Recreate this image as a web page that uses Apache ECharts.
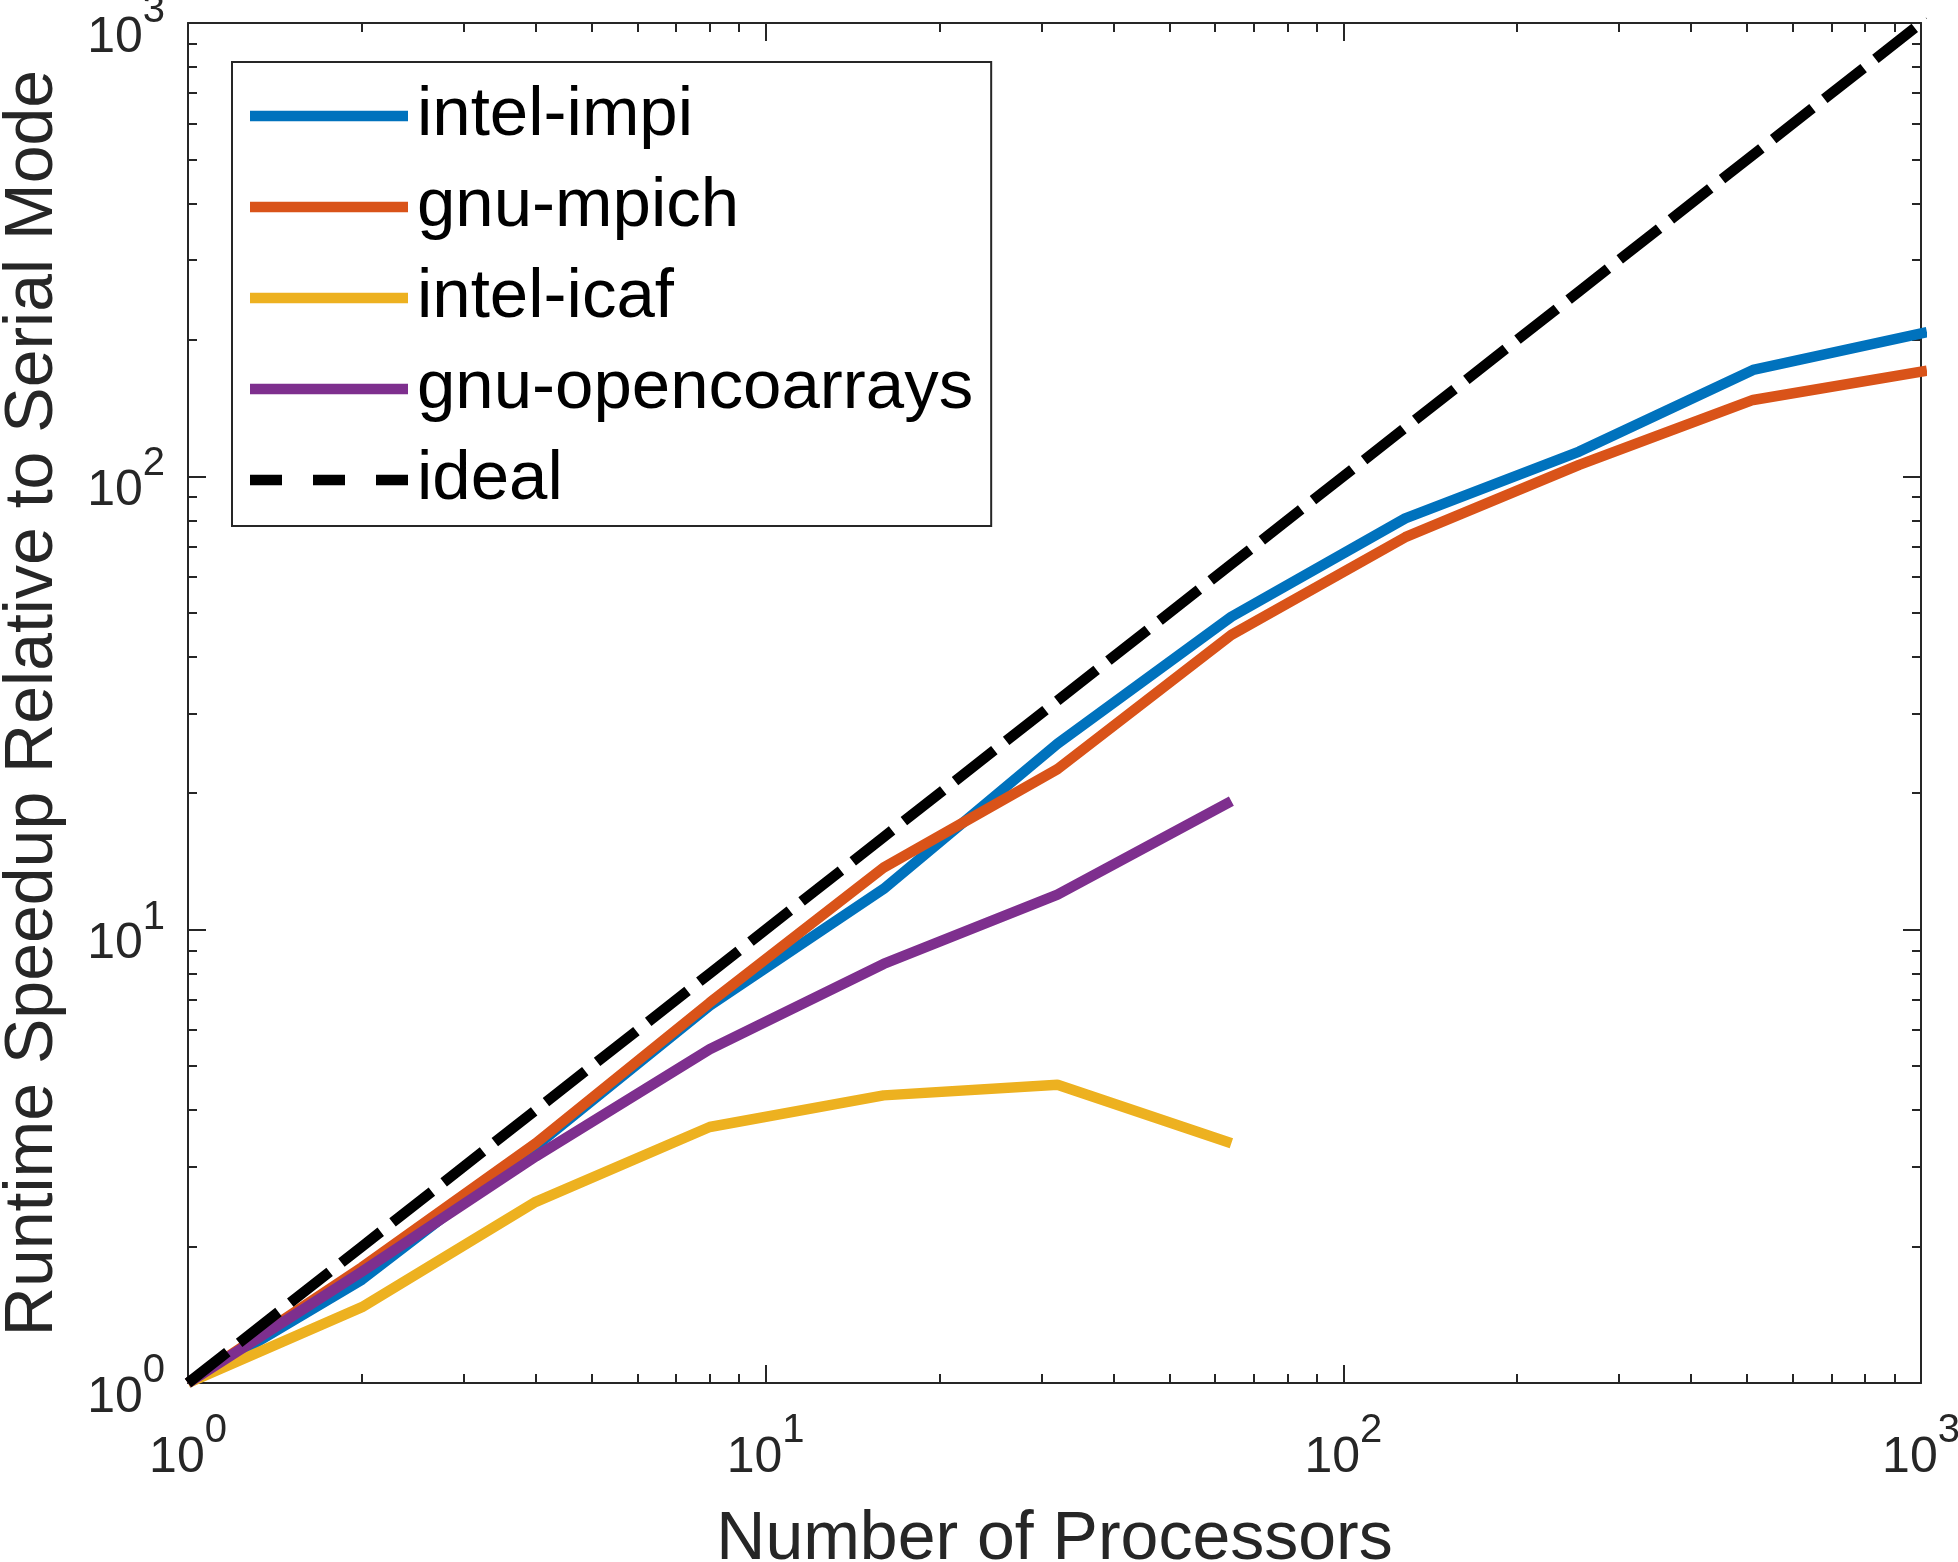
<!DOCTYPE html>
<html>
<head>
<meta charset="utf-8">
<title>Runtime Speedup</title>
<script src="https://cdn.jsdelivr.net/npm/echarts@6/dist/echarts.min.js"></script>
<style>
	html, body { margin: 0; padding: 0; background: #fff; }
	#speedupChart { width: 1958px; height: 1562px; }
</style>
</head>
<body>
<div id="speedupChart"></div>
<script>
	var processors = [1, 2, 4, 8, 16, 32, 64, 128, 256, 512, 1024];
	var intelImpi = [1, 1.69, 3.33, 6.8, 12.3, 25.7, 49.0, 80.8, 113.4, 171.7, 208];
	var gnuMpich = [1, 1.80, 3.38, 6.9, 13.7, 22.6, 44.7, 73.4, 106, 147.4, 171];
	var intelIcaf = [1, 1.47, 2.51, 3.67, 4.31, 4.55, 3.38];
	var gnuOpencoarrays = [1, 1.76, 3.16, 5.45, 8.40, 11.95, 19.2];
	var ideal = [1, 2, 4, 8, 16, 32, 64, 128, 256, 512, 1024];

	var seriesNames = ['intel-impi', 'gnu-mpich', 'intel-icaf', 'gnu-opencoarrays', 'ideal'];
	var seriesColors = ['#0072BD', '#D95319', '#EDB120', '#7E2F8E', '#000000'];

	var majorTicks = [1, 10, 100, 1000];
	var minorTicks = [2, 3, 4, 5, 6, 7, 8, 9, 20, 30, 40, 50, 60, 70, 80, 90, 200, 300, 400, 500, 600, 700, 800, 900];

	var fontName = 'Liberation Sans, Arial, Helvetica, sans-serif';
	var axisColor = '#262626';

	function pairs(xs, ys) {
		var out = [];
		for(var i = 0; i < ys.length; i++) {
			out.push([xs[i], ys[i]]);
		}
		return out;
	}

	//10^n 形式的刻度标签
	function powerFormatter(value) {
		var exp = Math.round(Math.log(value) / Math.LN10);
		return '{b|10}{e|' + exp + '}';
	}

	var powerRich = {
		b: {
			fontSize: 50,
			lineHeight: 72,
			fontFamily: fontName,
			color: axisColor,
			verticalAlign: 'bottom'
		},
		e: {
			fontSize: 40,
			lineHeight: 40,
			fontFamily: fontName,
			color: axisColor,
			verticalAlign: 'top'
		}
	};

	function logAxis(position, major, withLabel, name) {
		var axis = {
			type: 'log',
			logBase: 10,
			min: 1,
			max: 1000,
			position: position,
			axisLine: {
				show: major,
				onZero: false,
				lineStyle: { color: axisColor, width: 2 }
			},
			axisTick: {
				show: true,
				inside: true,
				length: major ? 18 : 9,
				customValues: major ? majorTicks : minorTicks,
				lineStyle: { color: axisColor, width: 2 }
			},
			axisLabel: { show: false },
			splitLine: { show: false },
			minorTick: { show: false }
		};
		if(withLabel) {
			axis.axisLabel = {
				show: true,
				customValues: majorTicks,
				formatter: powerFormatter,
				rich: powerRich,
				padding: [8, 0, 0, 0],
				margin: (position == 'bottom') ? 20 : 23
			};
			axis.name = name;
			axis.nameLocation = 'middle';
			axis.nameGap = (position == 'bottom') ? 123 : 121;
			axis.nameMoveOverlap = false;
			axis.nameTextStyle = {
				fontSize: 68,
				fontFamily: fontName,
				color: axisColor
			};
		}
		return axis;
	}

	var lineData = [intelImpi, gnuMpich, intelIcaf, gnuOpencoarrays, ideal];
	var series = [];
	for(var i = 0; i < seriesNames.length; i++) {
		series.push({
			name: seriesNames[i],
			type: 'line',
			xAxisIndex: 0,
			yAxisIndex: 0,
			symbol: 'none',
			clip: true,
			silent: true,
			data: pairs(processors, lineData[i]),
			lineStyle: {
				color: seriesColors[i],
				width: 10.5,
				type: (seriesNames[i] == 'ideal') ? [50, 15] : 'solid'
			},
			itemStyle: { color: seriesColors[i] }
		});
	}

	var dashIcon = 'path://M0,0H32V10H0Z M63,0H95V10H63Z M126,0H158V10H126Z';

	var speedupOption = {
		backgroundColor: '#ffffff',
		animation: false,
		grid: {
			left: 188,
			right: 37,
			top: 23,
			bottom: 179,
			containLabel: false,
			outerBoundsMode: 'none'
		},
		legend: {
			orient: 'vertical',
			left: 232,
			top: 62,
			padding: [19, 18, 11, 18],
			icon: 'rect',
			itemWidth: 158,
			itemHeight: 10.5,
			itemGap: 21,
			symbolKeepAspect: false,
			backgroundColor: '#ffffff',
			borderColor: axisColor,
			borderWidth: 2,
			borderRadius: 0,
			selectedMode: false,
			textStyle: {
				fontSize: 69,
				lineHeight: 70,
				fontFamily: fontName,
				color: '#000000',
				padding: [0, 0, 0, 4]
			},
			data: [
				{ name: 'intel-impi' },
				{ name: 'gnu-mpich' },
				{ name: 'intel-icaf' },
				{ name: 'gnu-opencoarrays' },
				{ name: 'ideal', icon: dashIcon }
			]
		},
		xAxis: [
			logAxis('bottom', true, true, 'Number of Processors'),
			logAxis('bottom', false, false),
			logAxis('top', true, false),
			logAxis('top', false, false)
		],
		yAxis: [
			logAxis('left', true, true, 'Runtime Speedup Relative to Serial Mode'),
			logAxis('left', false, false),
			logAxis('right', true, false),
			logAxis('right', false, false)
		],
		series: series
	};

	var speedupChart = echarts.init(document.getElementById('speedupChart'));
	speedupChart.setOption(speedupOption);
</script>
</body>
</html>
